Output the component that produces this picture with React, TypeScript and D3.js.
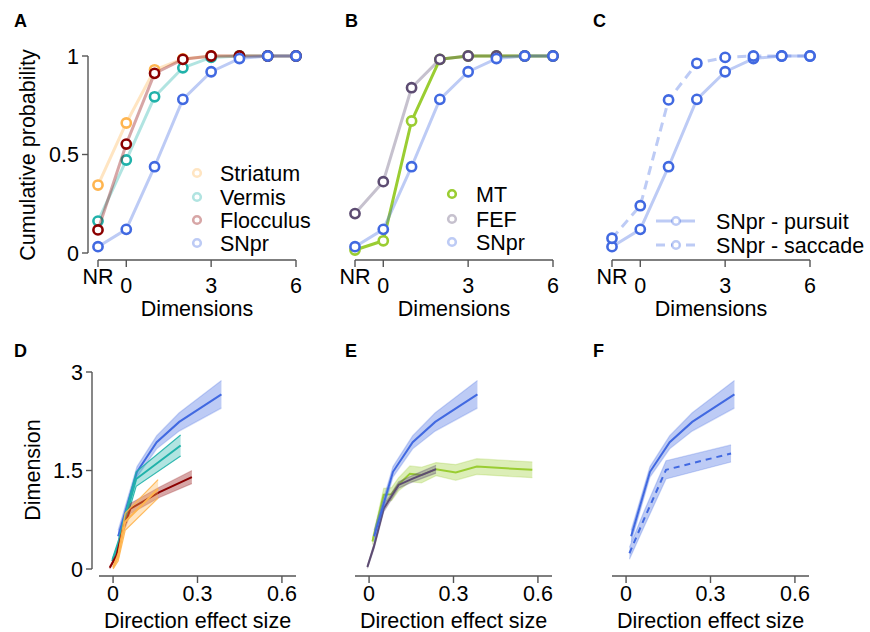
import React from 'react';
import * as d3 from 'd3';

// cumulative probability of dimensionality (NR, 0..6)
const dimTicks = ['NR', '0', '3', '6'];
const dimTickVals = [-1, 0, 3, 6];
const dims = [-1, 0, 1, 2, 3, 4, 5, 6];

const striatumCdf = [0.345, 0.66, 0.93, 0.985, 1, 1, 1, 1];
const vermisCdf = [0.162, 0.472, 0.793, 0.94, 0.993, 1, 1, 1];
const flocculusCdf = [0.117, 0.553, 0.912, 0.983, 1, 1, 1, 1];
const snprCdf = [0.032, 0.12, 0.438, 0.78, 0.92, 0.987, 1, 1];
const mtCdf = [0.015, 0.062, 0.67, 0.983, 1, 1, 1, 1];
const fefCdf = [0.2, 0.362, 0.839, 0.983, 1, 1, 1, 1];
const snprSaccadeCdf = [0.075, 0.24, 0.777, 0.963, 0.993, 1, 1, 1];

// dimension vs direction effect size (mean +- sem)
const effTicks = [0, 0.3, 0.6];
const dimYTicks = [0, 1.5, 3];

const snprEffX = [0.018, 0.085, 0.155, 0.235, 0.385];
const snprEffY = [0.5, 1.48, 1.93, 2.24, 2.66];
const snprEffErr = [0.09, 0.08, 0.1, 0.14, 0.21];

const vermisEffX = [-0.003, 0.02, 0.045, 0.082, 0.24];
const vermisEffY = [0.12, 0.4, 0.8, 1.37, 1.88];
const vermisEffErr = [0.03, 0.05, 0.08, 0.11, 0.16];

const flocculusEffX = [-0.012, 0.012, 0.035, 0.062, 0.165, 0.28];
const flocculusEffY = [0.02, 0.2, 0.6, 0.92, 1.17, 1.4];
const flocculusEffErr = [0.02, 0.04, 0.07, 0.08, 0.08, 0.1];

const striatumEffX = [0, 0.018, 0.043, 0.16];
const striatumEffY = [0.02, 0.18, 0.72, 1.22];
const striatumEffErr = [0.02, 0.06, 0.13, 0.14];

const mtEffX = [0.012, 0.052, 0.08, 0.105, 0.145, 0.186, 0.238, 0.308, 0.383, 0.58];
const mtEffY = [0.42, 1.13, 1.14, 1.29, 1.45, 1.43, 1.52, 1.47, 1.56, 1.51];
const mtEffErr = [0.05, 0.1, 0.1, 0.1, 0.12, 0.12, 0.1, 0.12, 0.12, 0.12];

const fefEffX = [-0.006, 0.017, 0.052, 0.105, 0.157, 0.238];
const fefEffY = [0.03, 0.34, 0.92, 1.28, 1.38, 1.52];
const fefEffErr = [0.02, 0.04, 0.05, 0.05, 0.05, 0.06];

const saccEffX = [0.012, 0.065, 0.142, 0.373];
const saccEffY = [0.24, 0.77, 1.51, 1.76];
const saccEffErr = [0.09, 0.12, 0.14, 0.13];

const C = {
  striatum: '#ffb54f',
  vermis: '#20b2aa',
  flocculus: '#8b0000',
  snpr: '#4169e1',
  mt: '#9acd32',
  fef: '#5d4c72',
};

const FONT = '"Liberation Sans", Arial, sans-serif';
const FS = 21.5;
const AXIS = '#555';
const LIGHT = 0.35;

const topLefts = [98, 355, 612];
const botLefts = [99, 355, 612];
const PW = 198;

type CdfSeries = { vals: number[]; color: string; lineOp: number; dash?: string };

function CdfPanel({ left, series, yAxis }: { left: number; series: CdfSeries[]; yAxis: boolean }) {
  const x = d3.scaleLinear().domain([-1, 6]).range([left, left + PW]);
  const y = d3.scaleLinear().domain([0, 1]).range([253, 56]);
  const line = d3.line<number>().x((_, i) => x(dims[i])).y((d) => y(d));
  const axY = 260;
  return (
    <g>
      {series.map((s, k) => (
        <g key={k}>
          <path d={line(s.vals) || ''} fill="none" stroke={s.color} strokeOpacity={s.lineOp}
            strokeWidth={3} strokeDasharray={s.dash} strokeLinejoin="round" />
          {s.vals.map((v, i) => (
            <circle key={i} cx={x(dims[i])} cy={y(v)} r={4.6} fill="#fff" stroke={s.color} strokeWidth={2.6} />
          ))}
        </g>
      ))}
      <line x1={x(-1)} x2={x(6)} y1={axY} y2={axY} stroke={AXIS} strokeWidth={1.4} />
      {dimTickVals.map((t, i) => (
        <g key={i}>
          <line x1={x(t)} x2={x(t)} y1={axY} y2={axY + 7} stroke={AXIS} strokeWidth={1.4} />
          <text x={x(t)} y={t < 0 ? 284 : 293} textAnchor="middle" fontSize={FS} fontFamily={FONT}>{dimTicks[i]}</text>
        </g>
      ))}
      <text x={left + PW / 2} y={316} textAnchor="middle" fontSize={FS} fontFamily={FONT}>Dimensions</text>
      {yAxis && (
        <g>
          <line x1={88} x2={88} y1={y(0)} y2={y(1)} stroke={AXIS} strokeWidth={1.4} />
          {[0, 0.5, 1].map((t) => (
            <g key={t}>
              <line x1={82} x2={88} y1={y(t)} y2={y(t)} stroke={AXIS} strokeWidth={1.4} />
              <text x={79} y={y(t)} dy="0.35em" textAnchor="end" fontSize={FS} fontFamily={FONT}>{t}</text>
            </g>
          ))}
          <text transform={`translate(35,${155}) rotate(-90)`} textAnchor="middle" fontSize={FS} fontFamily={FONT}>Cumulative probability</text>
        </g>
      )}
    </g>
  );
}

type EffSeries = { xs: number[]; ys: number[]; err: number[]; color: string; edgeOp: number; dash?: string; bandOp?: number };

function EffPanel({ left, series, yAxis }: { left: number; series: EffSeries[]; yAxis: boolean }) {
  const x = d3.scaleLinear().domain([-0.05, 0.65]).range([left, left + 197]);
  const y = d3.scaleLinear().domain([0, 3]).range([569, 372]);
  const axY = 576;
  return (
    <g>
      {series.map((s, k) => {
        const idx = s.xs.map((_, i) => i);
        const area = d3.area<number>().x((i) => x(s.xs[i])).y0((i) => y(s.ys[i] - s.err[i])).y1((i) => y(s.ys[i] + s.err[i]));
        const mid = d3.line<number>().x((i) => x(s.xs[i])).y((i) => y(s.ys[i]));
        const up = d3.line<number>().x((i) => x(s.xs[i])).y((i) => y(s.ys[i] + s.err[i]));
        const lo = d3.line<number>().x((i) => x(s.xs[i])).y((i) => y(s.ys[i] - s.err[i]));
        return (
          <g key={k}>
            <path d={area(idx) || ''} fill={s.color} fillOpacity={s.bandOp ?? 0.35} />
            <path d={up(idx) || ''} fill="none" stroke={s.color} strokeOpacity={s.edgeOp} strokeWidth={1.2} />
            <path d={lo(idx) || ''} fill="none" stroke={s.color} strokeOpacity={s.edgeOp} strokeWidth={1.2} />
            <path d={mid(idx) || ''} fill="none" stroke={s.color} strokeWidth={2} strokeDasharray={s.dash} />
          </g>
        );
      })}
      <line x1={x(-0.05)} x2={x(0.65)} y1={axY} y2={axY} stroke={AXIS} strokeWidth={1.4} />
      {effTicks.map((t) => (
        <g key={t}>
          <line x1={x(t)} x2={x(t)} y1={axY} y2={axY + 7} stroke={AXIS} strokeWidth={1.4} />
          <text x={x(t)} y={601} textAnchor="middle" fontSize={FS} fontFamily={FONT}>{t}</text>
        </g>
      ))}
      <text x={left + 197 / 2} y={628} textAnchor="middle" fontSize={FS} fontFamily={FONT}>Direction effect size</text>
      {yAxis && (
        <g>
          <line x1={92} x2={92} y1={y(0)} y2={y(3)} stroke={AXIS} strokeWidth={1.4} />
          {dimYTicks.map((t) => (
            <g key={t}>
              <line x1={86} x2={92} y1={y(t)} y2={y(t)} stroke={AXIS} strokeWidth={1.4} />
              <text x={83} y={y(t)} dy="0.35em" textAnchor="end" fontSize={FS} fontFamily={FONT}>{t}</text>
            </g>
          ))}
          <text transform={`translate(40,470) rotate(-90)`} textAnchor="middle" fontSize={FS} fontFamily={FONT}>Dimension</text>
        </g>
      )}
    </g>
  );
}

function Legend({ cx, rows, items, tx }: { cx: number; rows: number[]; items: { label: string; color: string; op: number }[]; tx: number }) {
  return (
    <g>
      {items.map((it, i) => (
        <g key={i}>
          <circle cx={cx} cy={rows[i]} r={3.8} fill="#fff" stroke={it.color} strokeOpacity={it.op} strokeWidth={2.6} />
          <text x={tx} y={rows[i]} dy="0.35em" fontSize={FS} fontFamily={FONT}>{it.label}</text>
        </g>
      ))}
    </g>
  );
}

const Letter = ({ x, y, t }: { x: number; y: number; t: string }) => (
  <text x={x} y={y} fontSize={18} fontWeight="bold" fontFamily={FONT}>{t}</text>
);

export default function App() {
  return (
    <svg width={870} height={632} style={{ position: 'absolute', left: 0, top: 0, background: '#fff' }}>
      <Letter x={14} y={27} t="A" />
      <Letter x={345} y={27} t="B" />
      <Letter x={593} y={27} t="C" />
      <Letter x={14} y={357} t="D" />
      <Letter x={345} y={357} t="E" />
      <Letter x={593} y={357} t="F" />

      <CdfPanel left={topLefts[0]} yAxis series={[
        { vals: striatumCdf, color: C.striatum, lineOp: LIGHT },
        { vals: vermisCdf, color: C.vermis, lineOp: LIGHT },
        { vals: flocculusCdf, color: C.flocculus, lineOp: LIGHT },
        { vals: snprCdf, color: C.snpr, lineOp: LIGHT },
      ]} />
      <Legend cx={197} tx={220} rows={[173, 197, 220, 243]} items={[
        { label: 'Striatum', color: C.striatum, op: LIGHT },
        { label: 'Vermis', color: C.vermis, op: LIGHT },
        { label: 'Flocculus', color: C.flocculus, op: LIGHT },
        { label: 'SNpr', color: C.snpr, op: LIGHT },
      ]} />

      <CdfPanel left={topLefts[1]} yAxis={false} series={[
        { vals: mtCdf, color: C.mt, lineOp: 1 },
        { vals: fefCdf, color: C.fef, lineOp: LIGHT },
        { vals: snprCdf, color: C.snpr, lineOp: LIGHT },
      ]} />
      <Legend cx={452} tx={476} rows={[194, 219, 242]} items={[
        { label: 'MT', color: C.mt, op: 1 },
        { label: 'FEF', color: C.fef, op: LIGHT },
        { label: 'SNpr', color: C.snpr, op: LIGHT },
      ]} />

      <CdfPanel left={topLefts[2]} yAxis={false} series={[
        { vals: snprCdf, color: C.snpr, lineOp: LIGHT },
        { vals: snprSaccadeCdf, color: C.snpr, lineOp: LIGHT, dash: '9,6' },
      ]} />
      <g>
        {['SNpr - pursuit', 'SNpr - saccade'].map((lab, i) => {
          const cy = [221, 245][i];
          return (
            <g key={lab}>
              <line x1={656} x2={695} y1={cy} y2={cy} stroke={C.snpr} strokeOpacity={LIGHT} strokeWidth={3} strokeDasharray={i ? '9,6' : undefined} />
              <circle cx={676} cy={cy} r={3.8} fill="#fff" stroke={C.snpr} strokeOpacity={LIGHT} strokeWidth={2.6} />
              <text x={716} y={cy} dy="0.35em" fontSize={FS} fontFamily={FONT}>{lab}</text>
            </g>
          );
        })}
      </g>

      <EffPanel left={botLefts[0]} yAxis series={[
        { xs: snprEffX, ys: snprEffY, err: snprEffErr, color: C.snpr, edgeOp: 0.25 },
        { xs: vermisEffX, ys: vermisEffY, err: vermisEffErr, color: C.vermis, edgeOp: 0.9 },
        { xs: flocculusEffX, ys: flocculusEffY, err: flocculusEffErr, color: C.flocculus, edgeOp: 0.2 },
        { xs: striatumEffX, ys: striatumEffY, err: striatumEffErr, color: C.striatum, edgeOp: 0.9 },
      ]} />
      <EffPanel left={botLefts[1]} yAxis={false} series={[
        { xs: mtEffX, ys: mtEffY, err: mtEffErr, color: C.mt, edgeOp: 0.25 },
        { xs: fefEffX, ys: fefEffY, err: fefEffErr, color: C.fef, edgeOp: 0.3 },
        { xs: snprEffX, ys: snprEffY, err: snprEffErr, color: C.snpr, edgeOp: 0.25 },
      ]} />
      <EffPanel left={botLefts[2]} yAxis={false} series={[
        { xs: snprEffX, ys: snprEffY, err: snprEffErr, color: C.snpr, edgeOp: 0.25 },
        { xs: saccEffX, ys: saccEffY, err: saccEffErr, color: C.snpr, edgeOp: 0.25, dash: '6,5' },
      ]} />
    </svg>
  );
}
